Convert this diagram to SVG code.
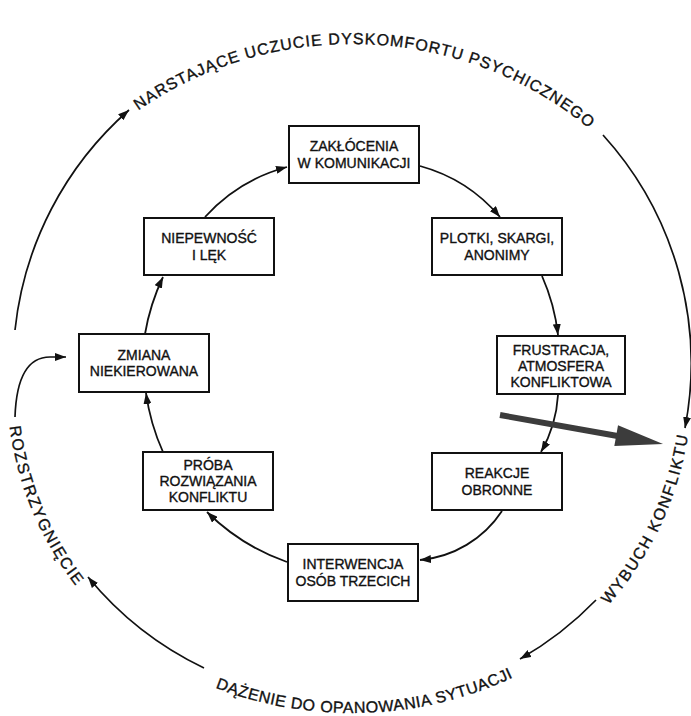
<svg xmlns="http://www.w3.org/2000/svg" width="691" height="716" viewBox="0 0 691 716">
<style>
.box{fill:#fff;stroke:#111;stroke-width:2}
.bt{font-family:"Liberation Sans",Arial,sans-serif;font-size:14px;fill:#111;stroke:#111;stroke-width:0.35;text-anchor:middle}
.ot{font-family:"Liberation Sans",Arial,sans-serif;font-size:16px;fill:#111;stroke:#111;stroke-width:0.35;text-anchor:middle}
.con{fill:none;stroke:#111;stroke-width:1.8}
.oc{fill:none;stroke:#111;stroke-width:1.7}
</style>
<defs>
<marker id="ah" viewBox="0 0 11 8" refX="11" refY="4" markerWidth="11" markerHeight="8" markerUnits="userSpaceOnUse" orient="auto"><path d="M0,0 L11,4 L0,8 z" fill="#111"/></marker>
<path id="pTop" d="M 48.4 201.8 A 360 341 0 0 1 671.3 227.6"/>
<path id="pBot" d="M 51.9 560.3 A 355 328 0 0 0 666.3 537.5"/>
<path id="pRight" d="M 384.6 718.5 A 339 335 0 0 0 628.8 190.5"/>
<path id="pLeft" d="M 81.2 177.4 A 345 335 0 0 0 302.2 716.5"/>
</defs>
<rect width="691" height="716" fill="#fff"/>
<g id="connectors">
<path class="con" d="M 205 217 A 170 170 0 0 1 287 167" marker-end="url(#ah)"/>
<path class="con" d="M 420 166 A 160 160 0 0 1 500 217" marker-end="url(#ah)"/>
<path class="con" d="M 542 276 A 200 200 0 0 1 558 335" marker-end="url(#ah)"/>
<path class="con" d="M 558 395 A 130 130 0 0 1 541 452" marker-end="url(#ah)"/>
<path class="con" d="M 502 511 A 110 110 0 0 1 420 560" marker-end="url(#ah)"/>
<path class="con" d="M 287 562 A 215 215 0 0 1 207 512" marker-end="url(#ah)"/>
<path class="con" d="M 163 452 A 215 215 0 0 1 146 393" marker-end="url(#ah)"/>
<path class="con" d="M 145 334 A 215 215 0 0 1 163 277" marker-end="url(#ah)"/>
<path class="oc" d="M 15 330 A 340 340 0 0 1 129 110" marker-end="url(#ah)"/>
<path class="oc" d="M 603 135 A 340 340 0 0 1 685 428" marker-end="url(#ah)"/>
<path class="oc" d="M 596 600 A 340 340 0 0 1 520 659" marker-end="url(#ah)"/>
<path class="oc" d="M 204 668 A 340 340 0 0 1 88 577" marker-end="url(#ah)"/>
<path class="oc" d="M 15 417 Q 17 357 50 357 L 66 357" marker-end="url(#ah)"/>
</g>
<g id="big-arrow" transform="translate(500,415) rotate(10.1)">
<polygon points="0,-3 118,-3 118,-10.5 165.6,0 118,10.5 118,3 0,3" fill="#3c3c3c"/>
</g>
<g id="n-zaklocenia"><rect class="box" x="289" y="126" width="130" height="57"/><text class="bt" x="354" y="151.3">ZAKŁÓCENIA</text><text class="bt" x="354" y="167.8">W KOMUNIKACJI</text></g>
<g id="n-niepewnosc"><rect class="box" x="144" y="218" width="130" height="57"/><text class="bt" x="209" y="243.3">NIEPEWNOŚĆ</text><text class="bt" x="209" y="259.8">I LĘK</text></g>
<g id="n-plotki"><rect class="box" x="432" y="218" width="130" height="57"/><text class="bt" x="497" y="243.3">PLOTKI, SKARGI,</text><text class="bt" x="497" y="259.8">ANONIMY</text></g>
<g id="n-zmiana"><rect class="box" x="79" y="334" width="130" height="58"/><text class="bt" x="144" y="359.8">ZMIANA</text><text class="bt" x="144" y="376.3">NIEKIEROWANA</text></g>
<g id="n-frustracja"><rect class="box" x="497" y="336" width="128" height="58"/><text class="bt" x="561" y="354.5">FRUSTRACJA,</text><text class="bt" x="561" y="370.5">ATMOSFERA</text><text class="bt" x="561" y="386.5">KONFLIKTOWA</text></g>
<g id="n-reakcje"><rect class="box" x="432" y="453" width="130" height="57"/><text class="bt" x="497" y="478.3">REAKCJE</text><text class="bt" x="497" y="494.8">OBRONNE</text></g>
<g id="n-proba"><rect class="box" x="143" y="452" width="130" height="58"/><text class="bt" x="208" y="470">PRÓBA</text><text class="bt" x="208" y="486">ROZWIĄZANIA</text><text class="bt" x="208" y="502">KONFLIKTU</text></g>
<g id="n-interwencja"><rect class="box" x="288" y="544" width="130" height="57"/><text class="bt" x="353" y="569.3">INTERWENCJA</text><text class="bt" x="353" y="585.8">OSÓB TRZECICH</text></g>
<g id="outer-labels">
<text class="ot" letter-spacing="1"><textPath href="#pTop" startOffset="50%">NARSTAJĄCE UCZUCIE DYSKOMFORTU PSYCHICZNEGO</textPath></text>
<text class="ot" letter-spacing="0.5"><textPath href="#pBot" startOffset="50%">DĄŻENIE DO OPANOWANIA SYTUACJI</textPath></text>
<text class="ot" letter-spacing="1.6"><textPath href="#pRight" startOffset="50%">WYBUCH KONFLIKTU</textPath></text>
<text class="ot" letter-spacing="1.6"><textPath href="#pLeft" startOffset="50%">ROZSTRZYGNIĘCIE</textPath></text>
</g>
</svg>
